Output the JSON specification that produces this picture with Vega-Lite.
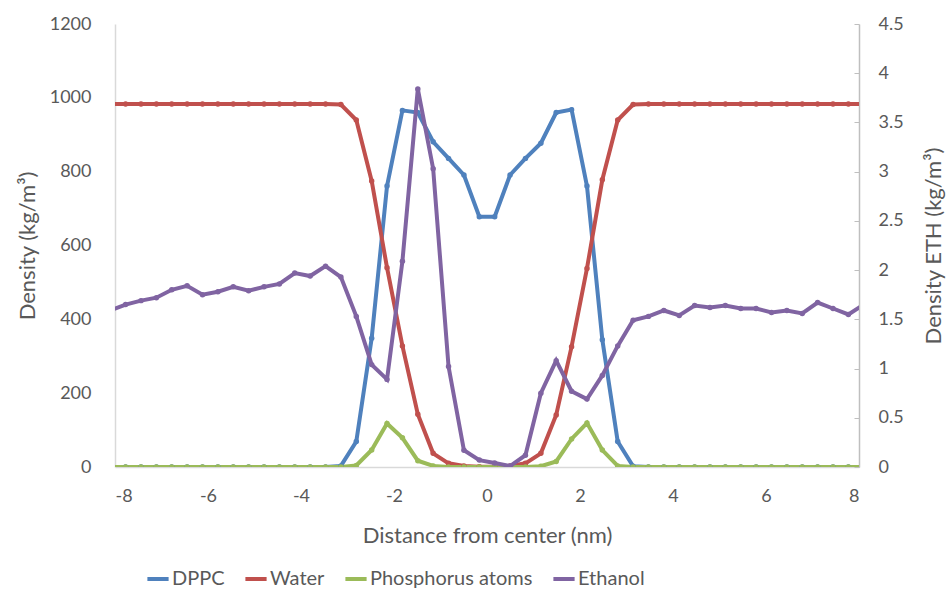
{
  "$schema": "https://vega.github.io/schema/vega-lite/v6.json",
  "width": 744,
  "height": 443,
  "padding": {"left": 115, "top": 24, "right": 88, "bottom": 131},
  "autosize": {"type": "none"},
  "background": "white",
  "config": {
    "view": {"stroke": null},
    "font": "Lato",
    "axis": {"grid": false, "labelColor": "#595959", "titleColor": "#595959", "labelFontSize": 18, "titleFontSize": 22, "titleFontWeight": "normal", "domainColor": "#d9d9d9", "tickColor": "#d9d9d9"}
  },
  "data": {"values": [
    {"series":"DPPC","x":-8.103,"v":0},{"series":"DPPC","x":-7.772,"v":0},{"series":"DPPC","x":-7.441,"v":0},{"series":"DPPC","x":-7.110,"v":0},{"series":"DPPC","x":-6.780,"v":0},{"series":"DPPC","x":-6.449,"v":0},{"series":"DPPC","x":-6.118,"v":0},{"series":"DPPC","x":-5.787,"v":0},{"series":"DPPC","x":-5.457,"v":0},{"series":"DPPC","x":-5.126,"v":0},{"series":"DPPC","x":-4.795,"v":0},{"series":"DPPC","x":-4.465,"v":0},{"series":"DPPC","x":-4.134,"v":0},{"series":"DPPC","x":-3.803,"v":0},{"series":"DPPC","x":-3.472,"v":0},{"series":"DPPC","x":-3.142,"v":3},{"series":"DPPC","x":-2.811,"v":69},{"series":"DPPC","x":-2.480,"v":349},{"series":"DPPC","x":-2.150,"v":761},{"series":"DPPC","x":-1.819,"v":966},{"series":"DPPC","x":-1.488,"v":960},{"series":"DPPC","x":-1.158,"v":881},{"series":"DPPC","x":-0.827,"v":836},{"series":"DPPC","x":-0.496,"v":791},{"series":"DPPC","x":-0.165,"v":678},
    {"series":"DPPC","x":0.165,"v":678},{"series":"DPPC","x":0.496,"v":791},{"series":"DPPC","x":0.827,"v":836},{"series":"DPPC","x":1.158,"v":877},{"series":"DPPC","x":1.488,"v":960},{"series":"DPPC","x":1.819,"v":968},{"series":"DPPC","x":2.150,"v":761},{"series":"DPPC","x":2.480,"v":345},{"series":"DPPC","x":2.811,"v":69},{"series":"DPPC","x":3.142,"v":2},{"series":"DPPC","x":3.472,"v":0},{"series":"DPPC","x":3.803,"v":0},{"series":"DPPC","x":4.134,"v":0},{"series":"DPPC","x":4.465,"v":0},{"series":"DPPC","x":4.795,"v":0},{"series":"DPPC","x":5.126,"v":0},{"series":"DPPC","x":5.457,"v":0},{"series":"DPPC","x":5.787,"v":0},{"series":"DPPC","x":6.118,"v":0},{"series":"DPPC","x":6.449,"v":0},{"series":"DPPC","x":6.780,"v":0},{"series":"DPPC","x":7.110,"v":0},{"series":"DPPC","x":7.441,"v":0},{"series":"DPPC","x":7.772,"v":0},{"series":"DPPC","x":8.103,"v":0},

    {"series":"Water","x":-8.103,"v":983},{"series":"Water","x":-7.772,"v":983},{"series":"Water","x":-7.441,"v":983},{"series":"Water","x":-7.110,"v":983},{"series":"Water","x":-6.780,"v":983},{"series":"Water","x":-6.449,"v":983},{"series":"Water","x":-6.118,"v":983},{"series":"Water","x":-5.787,"v":983},{"series":"Water","x":-5.457,"v":983},{"series":"Water","x":-5.126,"v":983},{"series":"Water","x":-4.795,"v":983},{"series":"Water","x":-4.465,"v":983},{"series":"Water","x":-4.134,"v":983},{"series":"Water","x":-3.803,"v":983},{"series":"Water","x":-3.472,"v":983},{"series":"Water","x":-3.142,"v":982},{"series":"Water","x":-2.811,"v":940},{"series":"Water","x":-2.480,"v":775},{"series":"Water","x":-2.150,"v":540},{"series":"Water","x":-1.819,"v":328},{"series":"Water","x":-1.488,"v":143},{"series":"Water","x":-1.158,"v":37},{"series":"Water","x":-0.827,"v":10},{"series":"Water","x":-0.496,"v":3},{"series":"Water","x":-0.165,"v":1},
    {"series":"Water","x":0.165,"v":1},{"series":"Water","x":0.496,"v":3},{"series":"Water","x":0.827,"v":10},{"series":"Water","x":1.158,"v":37},{"series":"Water","x":1.488,"v":141},{"series":"Water","x":1.819,"v":326},{"series":"Water","x":2.150,"v":538},{"series":"Water","x":2.480,"v":778},{"series":"Water","x":2.811,"v":940},{"series":"Water","x":3.142,"v":982},{"series":"Water","x":3.472,"v":983},{"series":"Water","x":3.803,"v":983},{"series":"Water","x":4.134,"v":983},{"series":"Water","x":4.465,"v":983},{"series":"Water","x":4.795,"v":983},{"series":"Water","x":5.126,"v":983},{"series":"Water","x":5.457,"v":983},{"series":"Water","x":5.787,"v":983},{"series":"Water","x":6.118,"v":983},{"series":"Water","x":6.449,"v":983},{"series":"Water","x":6.780,"v":983},{"series":"Water","x":7.110,"v":983},{"series":"Water","x":7.441,"v":983},{"series":"Water","x":7.772,"v":983},{"series":"Water","x":8.103,"v":983},

    {"series":"Phosphorus atoms","x":-8.103,"v":0},{"series":"Phosphorus atoms","x":-7.772,"v":0},{"series":"Phosphorus atoms","x":-7.441,"v":0},{"series":"Phosphorus atoms","x":-7.110,"v":0},{"series":"Phosphorus atoms","x":-6.780,"v":0},{"series":"Phosphorus atoms","x":-6.449,"v":0},{"series":"Phosphorus atoms","x":-6.118,"v":0},{"series":"Phosphorus atoms","x":-5.787,"v":0},{"series":"Phosphorus atoms","x":-5.457,"v":0},{"series":"Phosphorus atoms","x":-5.126,"v":0},{"series":"Phosphorus atoms","x":-4.795,"v":0},{"series":"Phosphorus atoms","x":-4.465,"v":0},{"series":"Phosphorus atoms","x":-4.134,"v":0},{"series":"Phosphorus atoms","x":-3.803,"v":0},{"series":"Phosphorus atoms","x":-3.472,"v":0},{"series":"Phosphorus atoms","x":-3.142,"v":0},{"series":"Phosphorus atoms","x":-2.811,"v":4},{"series":"Phosphorus atoms","x":-2.480,"v":46},{"series":"Phosphorus atoms","x":-2.150,"v":118},{"series":"Phosphorus atoms","x":-1.819,"v":79},{"series":"Phosphorus atoms","x":-1.488,"v":17},{"series":"Phosphorus atoms","x":-1.158,"v":3},{"series":"Phosphorus atoms","x":-0.827,"v":0},{"series":"Phosphorus atoms","x":-0.496,"v":0},{"series":"Phosphorus atoms","x":-0.165,"v":0},
    {"series":"Phosphorus atoms","x":0.165,"v":0},{"series":"Phosphorus atoms","x":0.496,"v":0},{"series":"Phosphorus atoms","x":0.827,"v":0},{"series":"Phosphorus atoms","x":1.158,"v":2},{"series":"Phosphorus atoms","x":1.488,"v":15},{"series":"Phosphorus atoms","x":1.819,"v":76},{"series":"Phosphorus atoms","x":2.150,"v":119},{"series":"Phosphorus atoms","x":2.480,"v":46},{"series":"Phosphorus atoms","x":2.811,"v":3},{"series":"Phosphorus atoms","x":3.142,"v":0},{"series":"Phosphorus atoms","x":3.472,"v":0},{"series":"Phosphorus atoms","x":3.803,"v":0},{"series":"Phosphorus atoms","x":4.134,"v":0},{"series":"Phosphorus atoms","x":4.465,"v":0},{"series":"Phosphorus atoms","x":4.795,"v":0},{"series":"Phosphorus atoms","x":5.126,"v":0},{"series":"Phosphorus atoms","x":5.457,"v":0},{"series":"Phosphorus atoms","x":5.787,"v":0},{"series":"Phosphorus atoms","x":6.118,"v":0},{"series":"Phosphorus atoms","x":6.449,"v":0},{"series":"Phosphorus atoms","x":6.780,"v":0},{"series":"Phosphorus atoms","x":7.110,"v":0},{"series":"Phosphorus atoms","x":7.441,"v":0},{"series":"Phosphorus atoms","x":7.772,"v":0},{"series":"Phosphorus atoms","x":8.103,"v":0},

    {"series":"Ethanol","x":-8.103,"v":1.59},{"series":"Ethanol","x":-7.772,"v":1.65},{"series":"Ethanol","x":-7.441,"v":1.69},{"series":"Ethanol","x":-7.110,"v":1.72},{"series":"Ethanol","x":-6.780,"v":1.80},{"series":"Ethanol","x":-6.449,"v":1.84},{"series":"Ethanol","x":-6.118,"v":1.75},{"series":"Ethanol","x":-5.787,"v":1.78},{"series":"Ethanol","x":-5.457,"v":1.83},{"series":"Ethanol","x":-5.126,"v":1.79},{"series":"Ethanol","x":-4.795,"v":1.83},{"series":"Ethanol","x":-4.465,"v":1.86},{"series":"Ethanol","x":-4.134,"v":1.97},{"series":"Ethanol","x":-3.803,"v":1.94},{"series":"Ethanol","x":-3.472,"v":2.04},{"series":"Ethanol","x":-3.142,"v":1.93},{"series":"Ethanol","x":-2.811,"v":1.53},{"series":"Ethanol","x":-2.480,"v":1.04},{"series":"Ethanol","x":-2.150,"v":0.89},{"series":"Ethanol","x":-1.819,"v":2.09},{"series":"Ethanol","x":-1.488,"v":3.84},{"series":"Ethanol","x":-1.158,"v":3.03},{"series":"Ethanol","x":-0.827,"v":1.02},{"series":"Ethanol","x":-0.496,"v":0.17},{"series":"Ethanol","x":-0.165,"v":0.07},
    {"series":"Ethanol","x":0.165,"v":0.04},{"series":"Ethanol","x":0.496,"v":0.01},{"series":"Ethanol","x":0.827,"v":0.12},{"series":"Ethanol","x":1.158,"v":0.75},{"series":"Ethanol","x":1.488,"v":1.08},{"series":"Ethanol","x":1.819,"v":0.77},{"series":"Ethanol","x":2.150,"v":0.69},{"series":"Ethanol","x":2.480,"v":0.93},{"series":"Ethanol","x":2.811,"v":1.23},{"series":"Ethanol","x":3.142,"v":1.49},{"series":"Ethanol","x":3.472,"v":1.53},{"series":"Ethanol","x":3.803,"v":1.59},{"series":"Ethanol","x":4.134,"v":1.54},{"series":"Ethanol","x":4.465,"v":1.64},{"series":"Ethanol","x":4.795,"v":1.62},{"series":"Ethanol","x":5.126,"v":1.64},{"series":"Ethanol","x":5.457,"v":1.61},{"series":"Ethanol","x":5.787,"v":1.61},{"series":"Ethanol","x":6.118,"v":1.57},{"series":"Ethanol","x":6.449,"v":1.59},{"series":"Ethanol","x":6.780,"v":1.56},{"series":"Ethanol","x":7.110,"v":1.67},{"series":"Ethanol","x":7.441,"v":1.61},{"series":"Ethanol","x":7.772,"v":1.55},{"series":"Ethanol","x":8.103,"v":1.65}
  ]},
  "encoding": {
    "x": {"field": "x", "type": "quantitative", "scale": {"domain": [-8, 8], "nice": false, "zero": false},
      "axis": {"title": "Distance from center (nm)", "values": [-8,-6,-4,-2,0,2,4,6,8], "labelExpr": "'' + datum.value", "ticks": false, "labelPadding": 20, "titlePadding": 20, "domainColor": "#d9d9d9", "domainWidth": 1.5}},
    "color": {"field": "series", "type": "nominal",
      "scale": {"domain": ["DPPC", "Water", "Phosphorus atoms", "Ethanol"], "range": ["#4F81BD", "#C0504D", "#9BBB59", "#8064A2"]},
      "legend": {"title": null, "orient": "none", "legendX": 30, "legendY": 542, "direction": "horizontal", "symbolType": "stroke", "symbolStrokeWidth": 4, "symbolSize": 450, "labelFontSize": 20, "labelLimit": 400, "labelColor": "#595959", "columnPadding": 12, "labelOffset": 1}}
  },
  "layer": [
    {
      "transform": [{"filter": "datum.series !== 'Ethanol'"}],
      "mark": {"type": "line", "strokeWidth": 4, "clip": true, "point": {"filled": true, "size": 30, "clip": true}},
      "encoding": {
        "y": {"field": "v", "type": "quantitative", "scale": {"domain": [0, 1200], "nice": false},
          "axis": {"orient": "left", "title": "Density (kg/m³)", "values": [0,200,400,600,800,1000,1200], "format": "d", "ticks": false, "labelPadding": 24, "titlePadding": 10, "domainWidth": 1.5}}
      }
    },
    {
      "transform": [{"filter": "datum.series === 'Ethanol'"}],
      "mark": {"type": "line", "strokeWidth": 4, "clip": true, "point": {"filled": true, "size": 30, "clip": true}},
      "encoding": {
        "y": {"field": "v", "type": "quantitative", "scale": {"domain": [0, 4.5], "nice": false},
          "axis": {"orient": "right", "title": "Density ETH (kg/m³)", "values": [0,0.5,1,1.5,2,2.5,3,3.5,4,4.5], "format": "~g", "tickSize": -5, "tickColor": "#bfbfbf", "labelPadding": 24, "titlePadding": 42, "titleAngle": 270, "domainColor": "#bfbfbf", "domainWidth": 1.5}}
      }
    }
  ],
  "resolve": {"scale": {"y": "independent"}}
}
